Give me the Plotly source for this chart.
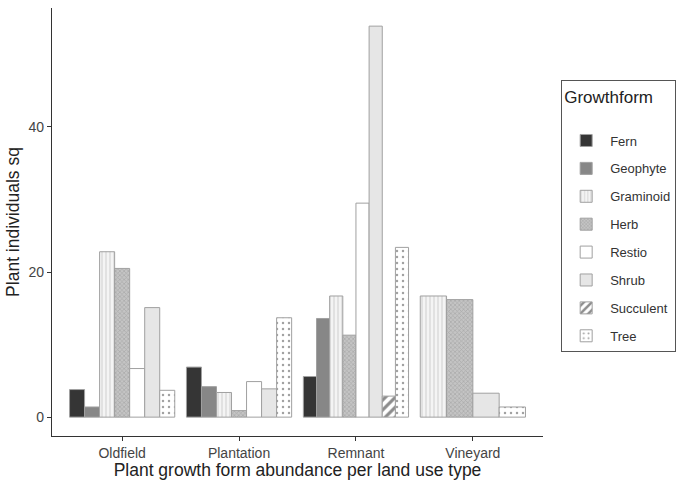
import plotly.graph_objects as go

categories = ["Oldfield", "Plantation", "Remnant", "Vineyard"]
growthforms = ["Fern", "Geophyte", "Graminoid", "Herb", "Restio", "Shrub", "Succulent", "Tree"]

fern = [3.8, 6.9, 5.6, None]
geophyte = [1.4, 4.2, 13.6, None]
graminoid = [22.8, 3.4, 16.7, 16.7]
herb = [20.5, 0.9, 11.3, 16.2]
restio = [6.7, 4.9, 29.5, None]
shrub = [15.1, 3.9, 53.9, 3.3]
succulent = [None, None, 2.9, None]
tree = [3.7, 13.7, 23.4, 1.4]

series = [fern, geophyte, graminoid, herb, restio, shrub, succulent, tree]

styles = {
    "Fern": dict(color="#353535", pattern=dict(shape="")),
    "Geophyte": dict(color="#878787", pattern=dict(shape="")),
    "Graminoid": dict(color="#f0f0f0", pattern=dict(shape="|", fgcolor="#a8a8a8", bgcolor="#f4f4f4", size=4, solidity=0.25)),
    "Herb": dict(color="#b0b0b0", pattern=dict(shape="x", fgcolor="#8c8c8c", bgcolor="#c4c4c4", size=3, solidity=0.4)),
    "Restio": dict(color="#ffffff", pattern=dict(shape="")),
    "Shrub": dict(color="#e6e6e6", pattern=dict(shape="")),
    "Succulent": dict(color="#ffffff", pattern=dict(shape="/", fgcolor="#1a1a1a", bgcolor="#ffffff", size=7, solidity=0.45)),
    "Tree": dict(color="#ffffff", pattern=dict(shape=".", fgcolor="#444444", bgcolor="#ffffff", size=6, solidity=0.14)),
}

# dodge positions (ggplot-like: total width 0.9 split among present bars)
total_w = 0.9
present = [[k for k in range(len(growthforms)) if series[k][i] is not None] for i in range(len(categories))]

fig = go.Figure()
for k, gf in enumerate(growthforms):
    xs, ys, ws = [], [], []
    for i in range(len(categories)):
        v = series[k][i]
        if v is None:
            continue
        n = len(present[i])
        j = present[i].index(k)
        w = total_w / n
        xs.append(i + 1 - total_w / 2 + w * (j + 0.5))
        ys.append(v)
        ws.append(w)
    st = styles[gf]
    fig.add_trace(go.Bar(
        x=xs, y=ys, width=ws, name=gf, legendgroup=gf,
        marker=dict(color=st["color"], pattern=st["pattern"],
                    line=dict(color="#a0a0a0", width=1)),
    ))

fig.update_layout(
    width=677, height=480,
    barmode="overlay",
    plot_bgcolor="white", paper_bgcolor="white",
    margin=dict(l=52, r=134, t=8, b=44, autoexpand=False),
    font=dict(family="Liberation Sans, Arial, sans-serif", color="#222"),
    legend=dict(
        title=dict(text="Growthform<br> ", font=dict(size=17, color="#222")),
        x=1.037, xanchor="left", y=0.831, yanchor="top",
        bordercolor="#555", borderwidth=1,
        font=dict(size=13, color="#333"),
        tracegroupgap=8,
        itemwidth=38,
    ),
    xaxis=dict(
        range=[0.4, 4.6],
        tickvals=[1, 2, 3, 4], ticktext=categories,
        showline=True, linecolor="#333", linewidth=1.2,
        ticks="outside", ticklen=4, tickcolor="#333",
        showgrid=False, zeroline=False,
        tickfont=dict(size=14, color="#444"),
        title=dict(text="Plant growth form abundance per land use type", font=dict(size=17.5, color="#222"), standoff=2),
    ),
    yaxis=dict(
        range=[-2.6, 56.4],
        tickvals=[0, 20, 40],
        showline=True, linecolor="#333", linewidth=1.2,
        ticks="outside", ticklen=4, tickcolor="#333",
        showgrid=False, zeroline=False,
        tickfont=dict(size=14, color="#444"),
        title=dict(text="Plant individuals sq", font=dict(size=17.5, color="#222"), standoff=4),
    ),
)

fig.write_html("out.html")
